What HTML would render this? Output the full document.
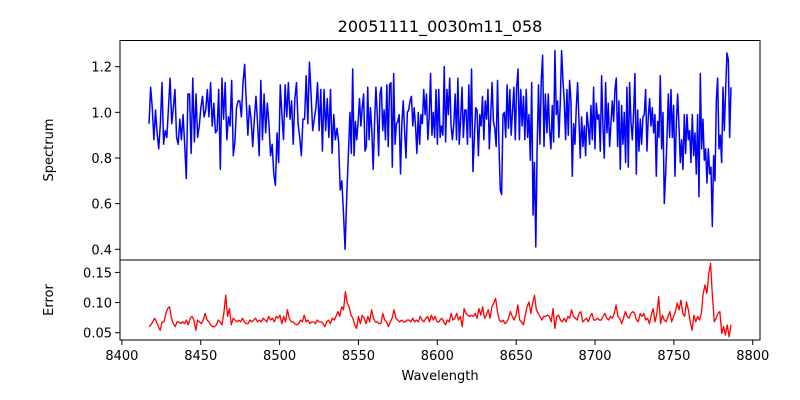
<!DOCTYPE html>
<html><head><meta charset="utf-8"><style>
html,body{margin:0;padding:0;background:#fff;}
svg{display:block;font-family:"DejaVu Sans","Liberation Sans",sans-serif;}
</style></head><body>
<svg id="chart" width="800" height="400" viewBox="0 0 800 400" xmlns="http://www.w3.org/2000/svg">
<rect x="0" y="0" width="800" height="400" fill="#fff"/>
<text x="440" y="32" font-size="16" text-anchor="middle" fill="#000">20051111_0030m11_058</text>
<g id="plots"></g>
<rect x="120" y="40.5" width="640" height="219.5" fill="none" stroke="#000" stroke-width="1"/>
<rect x="120" y="260" width="640" height="80" fill="none" stroke="#000" stroke-width="1"/>
<g id="ticks" font-size="13" fill="#000"></g>
<text x="440" y="380" font-size="13" text-anchor="middle">Wavelength</text>
<text transform="translate(53,150) rotate(-90)" font-size="13" text-anchor="middle">Spectrum</text>
<text transform="translate(53,300) rotate(-90)" font-size="13" text-anchor="middle">Error</text>
</svg>
<script>
// Flux segments (wavelength ranges in Angstrom)
const fluxSeg1Range = [8417.2, 8544.6];
const fluxSeg1 = [.95,1.11,1.02,.88,1.01,.91,.84,.95,1.13,.86,.92,.89,1.02,1.15,.95,1.02,1.10,.89,.86,.97,.88,.99,.86,.71,1.08,1.08,.82,1.15,.87,1.08,.89,.94,1.02,1.07,.98,1.01,1.10,.98,1.13,.94,1.04,.91,.92,1.10,.75,1.15,.97,1.13,.88,.98,.94,1.14,.81,.87,1.02,1.05,1.05,.98,1.13,1.21,1.05,.90,1.03,.97,.85,.97,1.07,.95,.81,1.14,.88,1.08,.91,1.04,.95,.81,.86,.73,.68,.91,.78,1.12,.99,.88,1.12,.98,1.13,.97,1.05,.86,1.06,1.13,.95,.89,.81,.97,.97,1.16,.95,1.22,1.08,.92,.97,1.02,1.13,.92,1.10,.83,1.10,.92,1.06,.89,1.10,.82,.99,.88,.93,.87,.66,.70,.56,.40,.63,.81,1.00];
const fluxSeg2Range = [8544.6, 8668.5];
const fluxSeg2 = [1.00,.82,1.19,.81,.96,.88,.96,1.06,.94,1.02,1.08,.83,.85,1.11,.88,1.02,.92,.75,.95,1.11,.99,.81,1.08,1.11,.92,1.01,.88,1.12,.85,1.12,1.13,.76,1.17,.86,.95,.96,.99,.73,.95,1.05,.92,.80,1.00,1.01,1.05,1.07,.94,1.02,.94,.82,1.00,.86,.99,.95,1.10,.99,1.08,.88,.98,1.17,.90,1.00,.89,1.10,.86,1.10,.89,.94,.90,1.20,.87,1.10,.99,1.15,.94,.88,.95,1.08,.88,1.15,.86,.97,1.11,.89,1.01,1.01,.86,1.12,.89,1.19,.74,.88,1.02,1.01,.81,.99,.94,1.07,.88,1.05,.97,1.10,.84,.98,1.13,.96,.93,.85,1.14,.87,.66,.64,.99,1.00,.89,1.12,.93,1.10,.90,1.01,1.11,.88,1.11,1.19,.88,1.10,.94,1.07,.88,1.10,.89,.99,.79,1.13,.55,.78,.41,.85,1.12,.86,1.14,1.25,.85,1.08];
const fluxSeg3Range = [8669.5, 8786.2];
const fluxSeg3 = [.91,1.08,.92,.84,1.03,.87,1.27,.99,1.05,.89,1.04,1.27,1.14,1.05,.88,1.10,.90,1.14,1.05,.72,.95,.86,1.02,1.13,.97,.80,.98,.85,.94,.81,1.00,.94,.86,1.03,.88,1.11,.84,1.04,.97,.99,.83,1.16,.94,.80,1.13,.91,1.04,.85,.95,1.05,.96,1.10,1.15,.85,1.05,.75,1.03,.86,1.00,.78,1.11,.76,1.13,.96,.88,1.00,1.17,.73,1.01,.83,.97,.86,.98,.99,1.10,.83,.98,1.06,.94,1.02,.91,.99,.72,.96,.89,1.16,.84,1.00,.60,.73,.88,1.08,.89,1.10,.89,1.03,.72,.95,1.08,.94,.78,.88,.75,.99,.82,.99,.88,.92,.78,.99,.81,.91,.73,.99,.63,1.17,.84,.97,.79,.84,.69,.84,.73,.76,.50,.81,.70,1.05,1.15,.84,.90,.78,1.11,.92,1.10,1.26,1.23,.89,1.11];
// Error segments
const errSeg1Range = [8417.2, 8601.0];
const errSeg1 = [.060,.063,.068,.074,.068,.060,.054,.068,.068,.082,.090,.093,.074,.065,.060,.068,.068,.065,.068,.065,.071,.063,.074,.077,.071,.054,.071,.068,.065,.071,.082,.071,.068,.063,.060,.060,.063,.071,.068,.063,.082,.112,.077,.090,.063,.074,.071,.068,.071,.068,.074,.068,.065,.065,.071,.068,.071,.074,.068,.071,.068,.074,.071,.068,.077,.071,.074,.068,.077,.074,.079,.065,.077,.068,.088,.074,.068,.068,.065,.063,.065,.071,.068,.079,.068,.071,.065,.068,.068,.065,.071,.068,.068,.065,.060,.068,.071,.065,.074,.071,.077,.085,.077,.093,.088,.118,.099,.093,.079,.074,.063,.057,.077,.065,.079,.074,.065,.077,.068,.088,.074,.068,.068,.065,.065,.082,.071,.068,.060,.068,.074,.088,.074,.071,.068,.071,.068,.068,.071,.071,.068,.074,.068,.071,.068,.077,.071,.068,.074,.077,.068,.079,.071,.077,.068,.068];
const errSeg2Range = [8601.7, 8786.2];
const errSeg2 = [.071,.074,.068,.063,.071,.068,.082,.071,.074,.082,.071,.077,.060,.090,.082,.079,.077,.079,.077,.082,.074,.090,.079,.093,.074,.079,.088,.074,.093,.099,.107,.085,.071,.068,.071,.065,.068,.074,.085,.077,.071,.079,.096,.071,.068,.063,.079,.093,.101,.082,.099,.112,.088,.082,.077,.071,.077,.077,.079,.077,.068,.090,.057,.077,.079,.071,.068,.074,.068,.077,.074,.088,.077,.074,.071,.082,.085,.068,.071,.074,.068,.077,.082,.071,.071,.074,.071,.071,.077,.082,.074,.071,.077,.074,.082,.096,.077,.074,.065,.074,.085,.077,.074,.082,.085,.082,.071,.068,.082,.077,.082,.071,.074,.065,.079,.090,.068,.082,.110,.065,.079,.071,.068,.077,.085,.068,.077,.085,.099,.088,.104,.082,.077,.101,.088,.068,.054,.079,.068,.077,.071,.082,.115,.129,.115,.148,.165,.110,.068,.074,.082,.085,.049,.060,.046,.063,.043,.063];
const xTicks = [8400,8450,8500,8550,8600,8650,8700,8750,8800];
const fluxTicks = [0.4,0.6,0.8,1.0,1.2];
const fluxTickLabels = ["0.4","0.6","0.8","1.0","1.2"];
const errTicks = [0.05,0.10,0.15];
const errTickLabels = ["0.05","0.10","0.15"];

const NS = "http://www.w3.org/2000/svg";
const X0 = 8398.8, X1 = 8804.6;
function xScale(w){ return 120 + (w - X0) / (X1 - X0) * 640; }
function yFlux(v){ return 249.3 - (v - 0.4) * 228.3; }
function yErr(v){ return 332.7 - (v - 0.05) * 603; }

function segPoints(vals, range, yf){
  const pts = [];
  const n = vals.length;
  for (let i = 0; i < n; i++) {
    const w = range[0] + (range[1] - range[0]) * i / (n - 1);
    pts.push(xScale(w).toFixed(2) + "," + yf(vals[i]).toFixed(2));
  }
  return pts;
}
const plots = document.getElementById("plots");
const fluxPts = segPoints(fluxSeg1, fluxSeg1Range, yFlux)
  .concat(segPoints(fluxSeg2, fluxSeg2Range, yFlux))
  .concat(segPoints(fluxSeg3, fluxSeg3Range, yFlux));
const fl = document.createElementNS(NS, "polyline");
fl.setAttribute("points", fluxPts.join(" "));
fl.setAttribute("fill", "none");
fl.setAttribute("stroke", "#0000ff");
fl.setAttribute("stroke-width", "1.5");
fl.setAttribute("stroke-linejoin", "round");


plots.appendChild(fl);

const errPts = segPoints(errSeg1, errSeg1Range, yErr).concat(segPoints(errSeg2, errSeg2Range, yErr));
const el = document.createElementNS(NS, "polyline");
el.setAttribute("points", errPts.join(" "));
el.setAttribute("fill", "none");
el.setAttribute("stroke", "#ff0000");
el.setAttribute("stroke-width", "1.3");
el.setAttribute("stroke-linejoin", "round");


plots.appendChild(el);

const ticks = document.getElementById("ticks");
function line(x1,y1,x2,y2,name){
  const l = document.createElementNS(NS, "line");
  l.setAttribute("x1",x1); l.setAttribute("y1",y1); l.setAttribute("x2",x2); l.setAttribute("y2",y2);
  l.setAttribute("stroke","#000"); l.setAttribute("stroke-width","1");
  
  
  ticks.appendChild(l);
}
function label(x,y,txt,anchor,name){
  const t = document.createElementNS(NS, "text");
  t.setAttribute("x",x); t.setAttribute("y",y); t.setAttribute("text-anchor",anchor);
  t.textContent = txt;
  
  
  ticks.appendChild(t);
}
xTicks.forEach(function(w){
  const x = xScale(w);
  line(x,340,x,345,"x-tick");
  label(x,360,String(w),"middle","x-tick-label");
});
fluxTicks.forEach(function(v,i){
  const y = yFlux(v);
  line(115,y,120,y,"spectrum-y-tick");
  label(112,y+5,fluxTickLabels[i],"end","spectrum-y-tick-label");
});
errTicks.forEach(function(v,i){
  const y = yErr(v);
  line(115,y,120,y,"error-y-tick");
  label(112,y+5,errTickLabels[i],"end","error-y-tick-label");
});
</script>
</body></html>
